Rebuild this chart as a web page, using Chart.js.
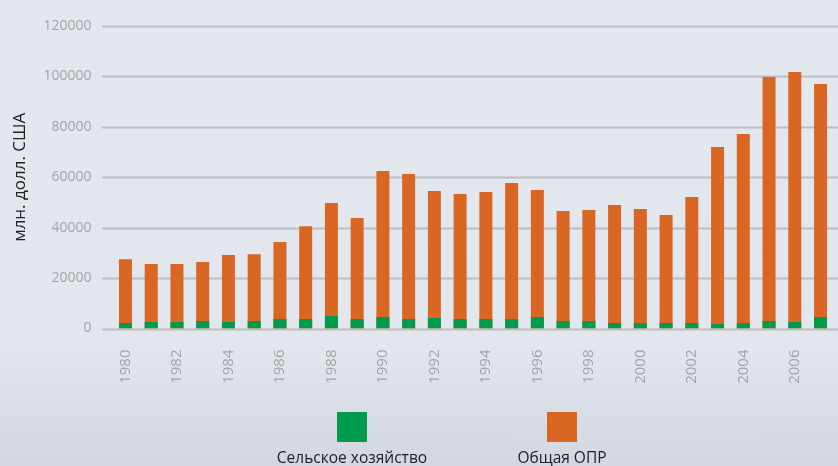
<!DOCTYPE html>
<html>
<head>
<meta charset="utf-8">
<script src="https://cdn.jsdelivr.net/npm/chart.js@4.4.1/dist/chart.umd.min.js"></script>
<style>
  html, body { margin: 0; padding: 0; }
  body {
    width: 838px; height: 466px; overflow: hidden;
    background: linear-gradient(to bottom, #e3e7ee 0%, #e2e6ed 74%, #d2d7e0 100%);
  }
  #wrap { position: relative; width: 838px; height: 466px; }
</style>
</head>
<body>
<div id="wrap"><canvas id="odaChart" width="838" height="466"></canvas></div>
<script>
// years on the x axis
const years = ['1980', '1981', '1982', '1983', '1984', '1985', '1986', '1987', '1988', '1989',
  '1990', '1991', '1992', '1993', '1994', '1995', '1996', '1997', '1998', '1999',
  '2000', '2001', '2002', '2003', '2004', '2005', '2006', '2007'];

// total ODA, mln USD
const totalOda = [27500, 25600, 25600, 26400, 29200, 29500, 34300, 40600, 49800, 43800,
  62500, 61300, 54500, 53400, 54100, 57700, 54900, 46600, 47000, 49000,
  47400, 45000, 52200, 72000, 77200, 99800, 101800, 97000];

// ODA to agriculture, mln USD
const agriOda = [2200, 2600, 2600, 3000, 2600, 3000, 3800, 3800, 5000, 3800,
  4600, 3800, 4200, 3800, 3800, 3800, 4600, 3000, 3000, 2200,
  2200, 2200, 2200, 1800, 2200, 3000, 2600, 4600];

const yTicks = [0, 20000, 40000, 60000, 80000, 100000, 120000];

const seriesNames = ['Сельское хозяйство', 'Общая ОПР'];
const seriesColors = ['#009b4c', '#da6624'];

const FONT = '"Open Sans", "Noto Sans", sans-serif';

// grid lines run a bit wider than the plot area
const gridPlugin = {
  id: 'wideGrid',
  beforeDatasetsDraw(chart) {
    const ctx = chart.ctx;
    const y = chart.scales.y;
    ctx.save();
    ctx.strokeStyle = '#bdbec2';
    ctx.lineWidth = 2;
    yTicks.forEach(v => {
      const py = Math.round(y.getPixelForValue(v)) + 0.5;
      ctx.beginPath();
      ctx.moveTo(102, py);
      ctx.lineTo(chart.width, py);
      ctx.stroke();
    });
    ctx.restore();
  }
};

// legend: square above its label
const legendPlugin = {
  id: 'boxLegend',
  afterDraw(chart) {
    const ctx = chart.ctx;
    const centers = [352, 562];
    ctx.save();
    chart.data.datasets.forEach((ds, i) => {
      ctx.fillStyle = ds.backgroundColor;
      ctx.fillRect(centers[i] - 15, 412, 30, 30);
      ctx.fillStyle = '#222222';
      ctx.font = '15.5px ' + FONT;
      ctx.textAlign = 'center';
      ctx.textBaseline = 'alphabetic';
      ctx.fillText(ds.label, centers[i], 463);
    });
    ctx.restore();
  }
};

new Chart(document.getElementById('odaChart'), {
  type: 'bar',
  data: {
    labels: years,
    datasets: [
      { label: seriesNames[0], data: agriOda, backgroundColor: seriesColors[0] },
      { label: seriesNames[1], data: totalOda, backgroundColor: seriesColors[1] }
    ]
  },
  options: {
    responsive: false,
    animation: false,
    grouped: false,
    barPercentage: 0.505,
    categoryPercentage: 1,
    layout: { padding: { top: 26, right: 4.6, left: 0, bottom: 0 } },
    plugins: {
      legend: { display: false },
      tooltip: { enabled: false }
    },
    scales: {
      x: {
        grid: { display: false },
        border: { display: false },
        ticks: {
          autoSkip: false,
          minRotation: 90,
          maxRotation: 90,
          padding: 13,
          color: '#a4a4a4',
          font: { family: FONT, size: 15 },
          callback: function (val, idx) { return idx % 2 === 0 ? this.getLabelForValue(val) : ''; }
        },
        afterFit(scale) { scale.height = 137.5; scale.paddingLeft = 0; scale.paddingRight = 0; }
      },
      y: {
        min: 0,
        max: 120000,
        grid: { display: false, drawTicks: false },
        border: { display: false },
        ticks: {
          stepSize: 20000,
          padding: 21,
          color: '#a4a4a4',
          font: { family: FONT, size: 14 },
          callback: v => String(v)
        },
        title: {
          display: true,
          text: 'млн. долл. США',
          color: '#222222',
          font: { family: FONT, size: 17 },
          padding: { top: 10 }
        },
        afterFit(scale) { scale.width = 112.6; scale.paddingTop = 0; scale.paddingBottom = 0; }
      }
    }
  },
  plugins: [gridPlugin, legendPlugin]
});
</script>
</body>
</html>
